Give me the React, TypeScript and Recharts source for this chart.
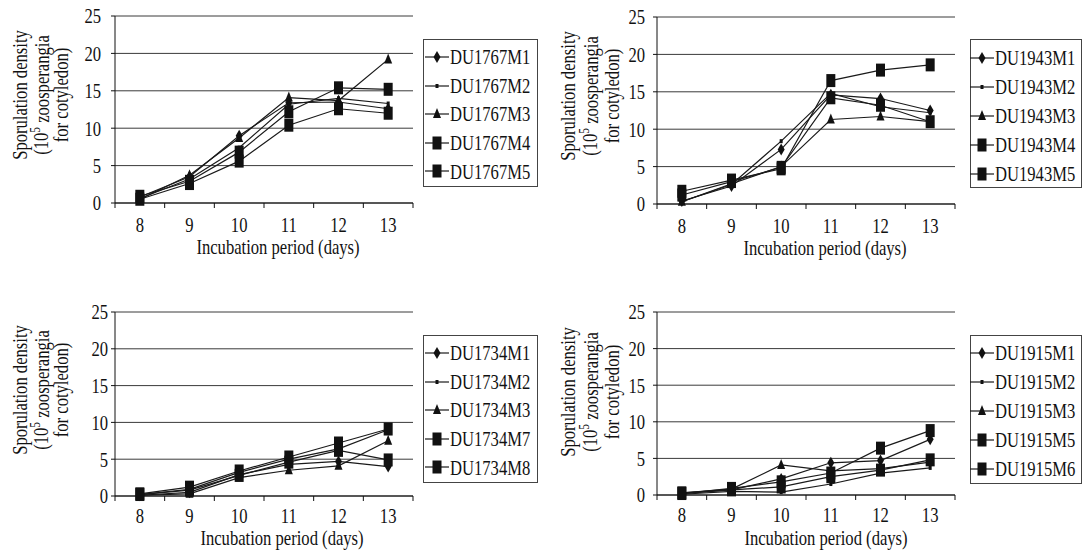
import React from 'react';
import { LineChart, Line, XAxis, YAxis, CartesianGrid } from 'recharts';

// ---------- DATA ----------
const days = [8, 9, 10, 11, 12, 13];
const yTicks = [0, 5, 10, 15, 20, 25];
const xTickLabels = [8, 9, 10, 11, 12, 13];

const du1767Names = ['DU1767M1', 'DU1767M2', 'DU1767M3', 'DU1767M4', 'DU1767M5'];
const du1767M1 = [0.8, 3.5, 9.0, 13.4, 13.5, 12.6];
const du1767M2 = [0.6, 3.2, 7.4, 13.2, 14.0, 13.3];
const du1767M3 = [0.5, 3.7, 8.7, 14.1, 13.7, 19.2];
const du1767M4 = [0.9, 2.9, 6.8, 12.2, 15.4, 15.2];
const du1767M5 = [0.5, 2.6, 5.6, 10.4, 12.6, 12.0];

const du1943Names = ['DU1943M1', 'DU1943M2', 'DU1943M3', 'DU1943M4', 'DU1943M5'];
const du1943M1 = [0.4, 2.4, 7.3, 14.6, 14.1, 12.5];
const du1943M2 = [0.3, 2.6, 8.4, 14.8, 13.0, 12.2];
const du1943M3 = [0.3, 2.7, 5.0, 11.3, 11.7, 11.0];
const du1943M4 = [1.7, 3.2, 4.7, 16.5, 17.9, 18.6];
const du1943M5 = [1.2, 3.0, 4.9, 14.2, 13.2, 11.0];

const du1734Names = ['DU1734M1', 'DU1734M2', 'DU1734M3', 'DU1734M7', 'DU1734M8'];
const du1734M1 = [0.1, 0.5, 2.9, 4.3, 4.7, 4.0];
const du1734M2 = [0.2, 0.9, 3.2, 5.0, 6.4, 9.0];
const du1734M3 = [0.1, 0.3, 2.5, 3.5, 4.1, 7.5];
const du1734M7 = [0.3, 1.2, 3.4, 5.3, 7.2, 9.1];
const du1734M8 = [0.2, 0.8, 2.8, 4.6, 6.2, 4.9];

const du1915Names = ['DU1915M1', 'DU1915M2', 'DU1915M3', 'DU1915M5', 'DU1915M6'];
const du1915M1 = [0.2, 0.7, 2.2, 4.4, 4.7, 7.6];
const du1915M2 = [0.1, 0.5, 0.4, 1.5, 3.0, 3.7];
const du1915M3 = [0.3, 0.8, 4.1, 3.3, 3.6, 4.5];
const du1915M5 = [0.2, 0.9, 1.8, 3.0, 6.4, 8.8];
const du1915M6 = [0.3, 0.7, 1.1, 2.5, 3.4, 4.8];

const markerShapes = ['diamond', 'dash', 'triangle', 'square', 'square'];

const yTitleLines = ['Sporulation density', '(10', '5', ' zoosperangia', 'for cotyledon)'];
const xTitle = 'Incubation period (days)';

// ---------- STYLE ----------
const FONT = '"Liberation Serif", "Times New Roman", serif';
const FS = 22;
const SX = 0.755;
const INK = '#111';
const LINE = '#1a1a1a';
const GRID = '#3a3a3a';

function Marker({ cx, cy, shape }: { cx: number; cy: number; shape: string }) {
  if (cx == null || cy == null || isNaN(cx) || isNaN(cy)) return <g />;
  if (shape === 'square') {
    return <rect x={cx - 4.5} y={cy - 6.5} width={9} height={13} fill={INK} />;
  }
  if (shape === 'triangle') {
    return <path d={`M${cx},${cy - 6} L${cx + 4},${cy + 4} L${cx - 4},${cy + 4} Z`} fill={INK} />;
  }
  if (shape === 'diamond') {
    return <path d={`M${cx},${cy - 6} L${cx + 3.5},${cy} L${cx},${cy + 6} L${cx - 3.5},${cy} Z`} fill={INK} />;
  }
  return <rect x={cx - 1.5} y={cy - 2} width={3} height={4} fill={INK} />;
}

type PanelCfg = {
  names: string[];
  series: number[][];
  chartLeft: number;
  chartTop: number;
  chartW: number;
  chartH: number;
  plotLeft: number;
  plotTop: number;
  plotRight: number;
  plotBottom: number;
  yTickRight: number;
  yTitleX: number[];
  yTitleY: number;
  xTitleX: number;
  xTickDy: number;
  xTitleDy: number;
  legend: { left: number; top: number; width: number; height: number; row0: number; step: number; lineX: number; textX: number };
};

function Panel({ cfg }: { cfg: PanelCfg }) {
  const data = days.map((d, i) => {
    const row: any = { day: d };
    cfg.series.forEach((s, k) => {
      row[`s${k}`] = s[i];
    });
    return row;
  });
  const ox = cfg.chartLeft;
  const oy = cfg.chartTop;
  const pb = cfg.plotBottom - oy;

  const xTicks: number[] = [];
  xTickLabels.forEach((v) => {
    xTicks.push(v - 0.5);
    xTicks.push(v);
  });
  xTicks.push(xTickLabels[xTickLabels.length - 1] + 0.5);

  const XTick = (props: any) => {
    const { x, payload } = props;
    const v = payload.value;
    if (Number.isInteger(v)) {
      return (
        <text transform={`translate(${x},${pb + cfg.xTickDy}) scale(${SX},1)`} textAnchor="middle" dominantBaseline="central" fontFamily={FONT} fontSize={FS} fill={INK}>
          {v}
        </text>
      );
    }
    return <line x1={x} x2={x} y1={pb} y2={pb + 5} stroke={INK} strokeWidth={1} />;
  };

  const YTick = (props: any) => {
    const { y, payload } = props;
    return (
      <text transform={`translate(${cfg.yTickRight - ox},${y}) scale(${SX},1)`} textAnchor="end" dominantBaseline="central" fontFamily={FONT} fontSize={FS} fill={INK}>
        {payload.value}
      </text>
    );
  };

  const YTitle = () => {
    const cy = cfg.yTitleY - oy;
    const rot = (x: number) => `translate(${x - ox},${cy}) rotate(-90) scale(${SX},1)`;
    return (
      <g fontFamily={FONT} fontSize={FS} fill={INK}>
        <text transform={rot(cfg.yTitleX[0])} textAnchor="middle" dominantBaseline="central">{yTitleLines[0]}</text>
        <text transform={rot(cfg.yTitleX[1])} textAnchor="middle" dominantBaseline="central">
          {yTitleLines[1]}
          <tspan fontSize={15} dy={-7}>{yTitleLines[2]}</tspan>
          <tspan dy={7}>{yTitleLines[3]}</tspan>
        </text>
        <text transform={rot(cfg.yTitleX[2])} textAnchor="middle" dominantBaseline="central">{yTitleLines[4]}</text>
      </g>
    );
  };

  const XTitle = () => (
    <text transform={`translate(${cfg.xTitleX - ox},${pb + cfg.xTitleDy}) scale(${SX},1)`} textAnchor="middle" dominantBaseline="central" fontFamily={FONT} fontSize={FS} fill={INK}>
      {xTitle}
    </text>
  );

  const L = cfg.legend;
  return (
    <>
      <div style={{ position: 'absolute', left: ox, top: oy }}>
        <LineChart
          width={cfg.chartW}
          height={cfg.chartH}
          data={data}
          margin={{ top: cfg.plotTop - oy, right: ox + cfg.chartW - cfg.plotRight, bottom: 0, left: 0 }}
        >
          <CartesianGrid vertical={false} horizontal={true} stroke={GRID} strokeWidth={1} />
          <XAxis
            dataKey="day"
            type="number"
            domain={[7.5, 13.5]}
            ticks={xTicks}
            interval={0}
            tickLine={false}
            axisLine={{ stroke: INK, strokeWidth: 1 }}
            tick={XTick}
            height={oy + cfg.chartH - cfg.plotBottom}
            label={{ content: XTitle }}
          />
          <YAxis
            domain={[0, 25]}
            ticks={yTicks}
            interval={0}
            width={cfg.plotLeft - ox}
            axisLine={{ stroke: INK, strokeWidth: 1 }}
            tickLine={{ stroke: INK, strokeWidth: 1 }}
            tickSize={4}
            tick={YTick}
            label={{ content: YTitle }}
          />
          {cfg.series.map((_, k) => (
            <Line
              key={k}
              type="linear"
              dataKey={`s${k}`}
              name={cfg.names[k]}
              stroke={LINE}
              strokeWidth={1.2}
              isAnimationActive={false}
              activeDot={false}
              dot={(p: any) => <Marker key={`d${k}-${p.index}`} cx={p.cx} cy={p.cy} shape={markerShapes[k]} />}
            />
          ))}
        </LineChart>
      </div>
      <div
        style={{
          position: 'absolute',
          left: L.left,
          top: L.top,
          width: L.width,
          height: L.height,
          border: `1px solid #444`,
          boxSizing: 'border-box',
          background: '#fff',
        }}
      >
        {cfg.names.map((n, k) => {
          const cy = L.row0 + k * L.step - L.top;
          return (
            <div key={n} style={{ position: 'absolute', left: 0, top: cy - 10, height: 20, width: L.width }}>
              <svg width={26} height={20} style={{ position: 'absolute', left: L.lineX - L.left - 1, top: 0 }}>
                <line x1={0} x2={24} y1={10} y2={10} stroke={LINE} strokeWidth={1.2} />
                <Marker cx={12} cy={10} shape={markerShapes[k]} />
              </svg>
              <span
                style={{
                  position: 'absolute',
                  left: L.textX - L.left - 1,
                  top: 10 - FS * 0.58,
                  fontFamily: FONT,
                  fontSize: FS,
                  lineHeight: `${FS * 1.15}px`,
                  color: INK,
                  whiteSpace: 'nowrap',
                  transform: `scaleX(${SX})`,
                  transformOrigin: 'left center',
                }}
              >
                {n}
              </span>
            </div>
          );
        })}
      </div>
    </>
  );
}

const panels: PanelCfg[] = [
  {
    names: du1767Names,
    series: [du1767M1, du1767M2, du1767M3, du1767M4, du1767M5],
    chartLeft: 0, chartTop: 0, chartW: 420, chartH: 268,
    plotLeft: 115, plotTop: 16, plotRight: 413, plotBottom: 203,
    yTickRight: 101, yTitleX: [20, 41, 61], yTitleY: 95, xTitleX: 278, xTickDy: 22, xTitleDy: 44,
    legend: { left: 423, top: 39, width: 115, height: 148, row0: 56, step: 28.6, lineX: 425, textX: 450 },
  },
  {
    names: du1943Names,
    series: [du1943M1, du1943M2, du1943M3, du1943M4, du1943M5],
    chartLeft: 545, chartTop: 0, chartW: 420, chartH: 268,
    plotLeft: 657, plotTop: 17, plotRight: 955, plotBottom: 204,
    yTickRight: 645, yTitleX: [568, 590, 612], yTitleY: 96, xTitleX: 825, xTickDy: 22, xTitleDy: 44,
    legend: { left: 970, top: 39, width: 112, height: 149, row0: 57, step: 29, lineX: 970, textX: 995 },
  },
  {
    names: du1734Names,
    series: [du1734M1, du1734M2, du1734M3, du1734M7, du1734M8],
    chartLeft: 0, chartTop: 290, chartW: 420, chartH: 261,
    plotLeft: 115, plotTop: 312, plotRight: 413, plotBottom: 496,
    yTickRight: 108, yTitleX: [20, 41, 61], yTitleY: 390, xTitleX: 282, xTickDy: 20, xTitleDy: 42,
    legend: { left: 423, top: 335, width: 115, height: 148, row0: 352, step: 28.6, lineX: 425, textX: 450 },
  },
  {
    names: du1915Names,
    series: [du1915M1, du1915M2, du1915M3, du1915M5, du1915M6],
    chartLeft: 545, chartTop: 290, chartW: 420, chartH: 261,
    plotLeft: 657, plotTop: 312, plotRight: 955, plotBottom: 495,
    yTickRight: 645, yTitleX: [568, 590, 612], yTitleY: 392, xTitleX: 826, xTickDy: 20, xTitleDy: 43,
    legend: { left: 970, top: 335, width: 112, height: 149, row0: 352, step: 29, lineX: 970, textX: 995 },
  },
];

export default function App() {
  return (
    <div style={{ position: 'absolute', left: 0, top: 0, width: 1087, height: 551, background: '#fff', overflow: 'hidden' }}>
      {panels.map((p, i) => (
        <Panel key={i} cfg={p} />
      ))}
    </div>
  );
}
